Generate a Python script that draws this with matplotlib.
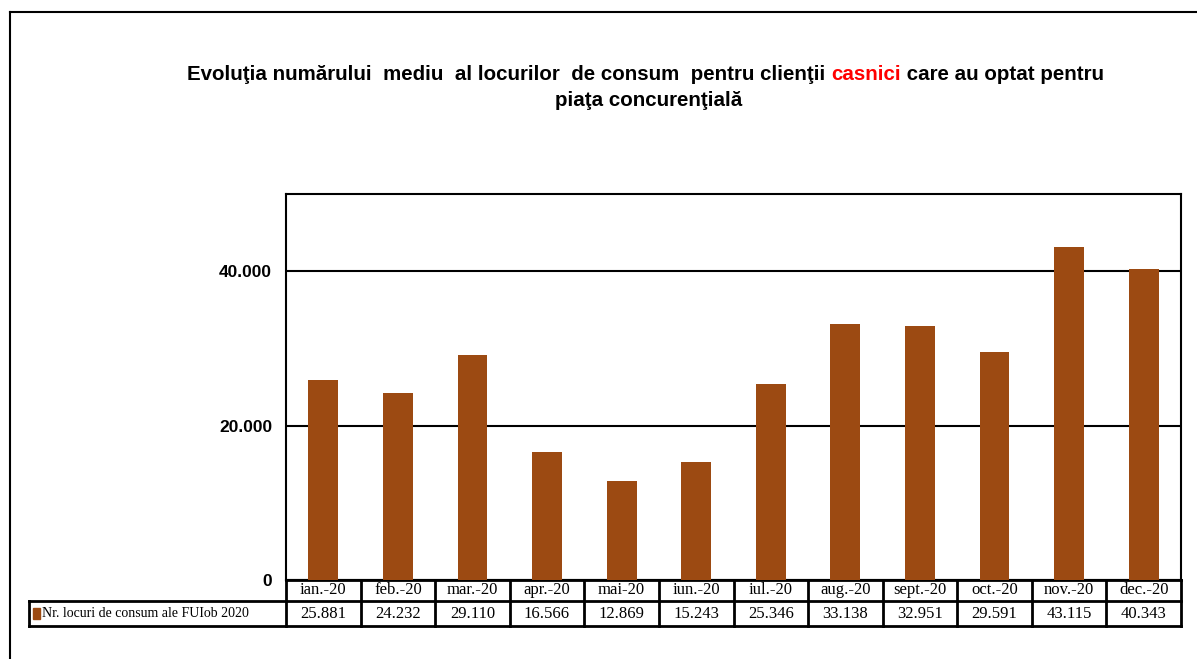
import matplotlib
matplotlib.use("Agg")
import matplotlib.pyplot as plt
from matplotlib.patches import Rectangle
from matplotlib.lines import Line2D
import numpy as np

plt.rcParams.update({"font.family": "Liberation Sans", "figure.dpi": 100})

# date: numar mediu locuri de consum, clienti casnici, 2020
months = ["ian.-20", "feb.-20", "mar.-20", "apr.-20", "mai-20", "iun.-20",
          "iul.-20", "aug.-20", "sept.-20", "oct.-20", "nov.-20", "dec.-20"]
values = [25881, 24232, 29110, 16566, 12869, 15243,
          25346, 33138, 32951, 29591, 43115, 40343]
series_label = "Nr. locuri de consum ale FUIob 2020"
yticks = [0, 20000, 40000]

bar_color = "#9C4A12"
W, H = 1197, 659

def dots(v):
    return f"{v:,.0f}".replace(",", ".")

fig = plt.figure(figsize=(W / 100, H / 100))
ax = fig.add_axes([286 / W, 1 - 580 / H, (1181 - 286) / W, (580 - 194) / H])

x = np.arange(len(months))
ax.bar(x, values, 0.4, color=bar_color, zorder=3)
ax.set_xlim(-0.5, len(months) - 0.5)
ax.set_ylim(0, 50000)
ax.set_yticks(yticks)
ax.set_yticklabels([dots(v) for v in yticks], fontsize=12.5, fontweight="bold")
ax.tick_params(axis="y", length=0, pad=10)
ax.set_xticks([])
ax.grid(True, axis="y", color="black", lw=1.5, zorder=1)
for s in ax.spines.values():
    s.set_linewidth(1.5)

# tabelul de sub grafic (coord. x in date, y in fractiuni de axa)
tr = ax.get_xaxis_transform()
r1, r2 = -21 / 386, -46 / 386
x_leg = -0.5 + (29 - 286) / ((1181 - 286) / 12)
ln = dict(color="black", lw=2, transform=tr, clip_on=False, solid_capstyle="projecting")
ax.add_line(Line2D([-0.5, 11.5], [0, 0], **ln))
ax.add_line(Line2D([x_leg, 11.5], [r1, r1], **ln))
ax.add_line(Line2D([x_leg, 11.5], [r2, r2], **ln))
for xi in np.arange(-0.5, 12, 1):
    ax.add_line(Line2D([xi, xi], [0, r2], **ln))
ax.add_line(Line2D([x_leg, x_leg], [r1, r2], **ln))

cell = dict(transform=tr, ha="center", va="center", family="Liberation Serif", fontsize=12)
for i, (m, v) in enumerate(zip(months, values)):
    ax.text(i, r1 / 2, m, **cell)
    ax.text(i, (r1 + r2) / 2, dots(v), **cell)

# cheia legendei in celula din stanga
ax.add_patch(Rectangle((x_leg + 0.06, (r1 + r2) / 2 - 0.013), 0.09, 0.026,
                       transform=tr, color=bar_color, clip_on=False))
ax.text(x_leg + 0.18, (r1 + r2) / 2, series_label, transform=tr, ha="left",
        va="center", family="Liberation Serif", fontsize=10)

# titlul, cu "casnici" in rosu
tkw = dict(fontsize=14.8, fontweight="bold")
t1 = fig.text(187 / W, 1 - 75 / H, "Evoluţia numărului  mediu  al locurilor  de consum  pentru clienţii ",
              ha="left", va="center", **tkw)
t2 = ax.annotate("casnici", xy=(1, 0), xycoords=t1, va="bottom", ha="left", color="red", **tkw)
ax.annotate(" care au optat pentru", xy=(1, 0), xycoords=t2, va="bottom", ha="left", **tkw)
fig.text(649 / W, 1 - 100 / H, "piaţa concurenţială", ha="center", va="center", **tkw)

# chenarul exterior
fig.add_artist(Line2D([10 / W, 10 / W], [0, 1 - 12 / H], color="black", lw=1.5))
fig.add_artist(Line2D([10 / W, 1], [1 - 12 / H, 1 - 12 / H], color="black", lw=1.5))

fig.savefig("out.png")
